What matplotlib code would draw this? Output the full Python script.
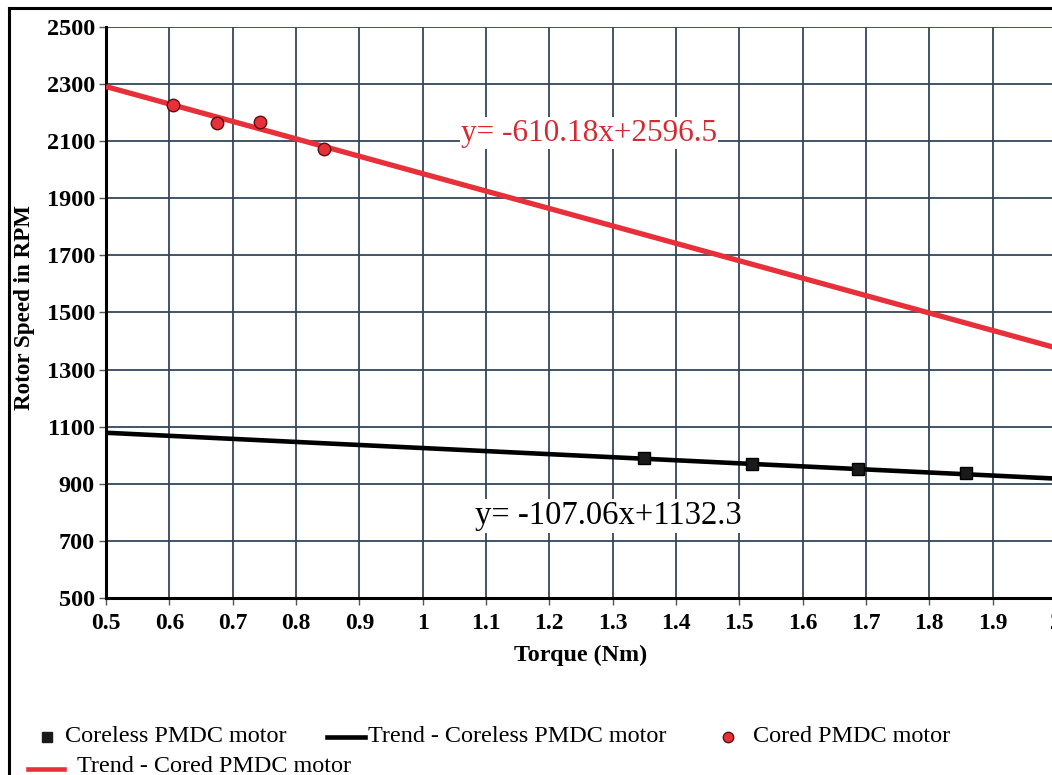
import matplotlib
matplotlib.use("Agg")
import matplotlib.pyplot as plt
import numpy as np
from matplotlib.lines import Line2D

plt.rcParams['font.family'] = ['Liberation Serif', 'DejaVu Serif']

# Data
cored_x = [0.606, 0.675, 0.743, 0.844]
cored_y = [2227, 2162, 2169, 2072]
coreless_x = [1.35, 1.52, 1.688, 1.858]
coreless_y = [990, 970, 951, 937]
cored_fit = (-610.18, 2596.5)
coreless_fit = (-107.06, 1132.3)
x_ticks = [0.5, 0.6, 0.7, 0.8, 0.9, 1, 1.1, 1.2, 1.3, 1.4, 1.5, 1.6, 1.7, 1.8, 1.9, 2]
y_ticks = [500, 700, 900, 1100, 1300, 1500, 1700, 1900, 2100, 2300, 2500]
legend_labels = ["Coreless PMDC motor", "Trend - Coreless PMDC motor",
                 "Cored PMDC motor", "Trend - Cored PMDC motor"]

W, H = 1052, 775
fig = plt.figure(figsize=(W/100, H/100), dpi=100)
fig.patch.set_facecolor('white')

left, right, top, bottom = 106, 1056, 27, 598
ax = fig.add_axes([left/W, 1-bottom/H, (right-left)/W, (bottom-top)/H])
ax.set_xlim(0.5, 2)
ax.set_ylim(500, 2500)
ax.set_xticks(x_ticks)
ax.set_xticklabels([str(t) for t in x_ticks])
ax.set_yticks(y_ticks)
grid_c = '#33475a'
ax.grid(True, color=grid_c, linewidth=1.3)
ax.set_axisbelow(True)
for s in ['top', 'right']:
    ax.spines[s].set_visible(False)
for s in ['left', 'bottom']:
    ax.spines[s].set_linewidth(2.2)
    ax.spines[s].set_color('black')
ax.tick_params(axis='y', direction='out', length=5, width=1, color='#555555', pad=3)
ax.tick_params(axis='x', direction='out', length=5, width=1, color='#555555', pad=6)
for lab in ax.get_yticklabels():
    lab.set_fontweight('bold')
    lab.set_fontsize(17.5)
for lab in ax.get_xticklabels():
    lab.set_fontweight('bold')
    lab.set_fontsize(17)

xs = np.array([0.5, 2.0])
ax.plot(xs, cored_fit[0]*xs + cored_fit[1], color='#e8303a', linewidth=3.8, zorder=3, solid_capstyle='butt')
ax.plot(xs, coreless_fit[0]*xs + coreless_fit[1], color='black', linewidth=3.3, zorder=3, solid_capstyle='butt')
ax.plot(cored_x, cored_y, 'o', color='#e8303a', markersize=9, markeredgecolor='#5a1010', markeredgewidth=1, zorder=4)
ax.plot(coreless_x, coreless_y, 's', color='#1a1a1a', markersize=8.5, markeredgecolor='black', zorder=4)

ax.text(0.5 + (589-left)/(right-left)*1.5, 2500 - (133-top)/(bottom-top)*2000,
        "y= -610.18x+2596.5", color='#d42a33', fontsize=22.5, ha='center', va='center',
        bbox=dict(facecolor='white', edgecolor='none', pad=1), zorder=5)
ax.text(0.5 + (608-left)/(right-left)*1.5, 2500 - (516-top)/(bottom-top)*2000,
        "y= -107.06x+1132.3", color='black', fontsize=23.5, ha='center', va='center',
        bbox=dict(facecolor='white', edgecolor='none', pad=1), zorder=5)

fig.text(581/W, 1-655/H, "Torque (Nm)", fontsize=17.3, fontweight='bold', ha='center', va='center')
fig.text(25/W, 1-307/H, "Rotor Speed in RPM", fontsize=16.6, fontweight='bold',
         rotation=90, ha='center', va='center')

# frame
fig.add_artist(Line2D([9/W, 9/W], [0, 1-8/H], color='black', linewidth=2.2, transform=fig.transFigure))
fig.add_artist(Line2D([9/W, 1], [1-8/H, 1-8/H], color='black', linewidth=2.2, transform=fig.transFigure))

# legend (manual)
def fx(px): return px/W
def fy(py): return 1-py/H
r1, r2 = 737, 767
fs = 17.4
fig.add_artist(Line2D([fx(47)], [fy(r1)], marker='s', color='#1a1a1a', markersize=6.5, linestyle='none', transform=fig.transFigure))
fig.text(fx(65), fy(r1), legend_labels[0], fontsize=fs, va='center', ha='left')
fig.add_artist(Line2D([fx(327), fx(365)], [fy(r1), fy(r1)], color='black', linewidth=3.3, transform=fig.transFigure))
fig.text(fx(368), fy(r1), legend_labels[1], fontsize=fs, va='center', ha='left')
fig.add_artist(Line2D([fx(728)], [fy(r1)], marker='o', color='#e8303a', markersize=7.5, markeredgecolor='#5a1010', markeredgewidth=1, linestyle='none', transform=fig.transFigure))
fig.text(fx(753), fy(r1), legend_labels[2], fontsize=fs, va='center', ha='left')
fig.add_artist(Line2D([fx(28), fx(64)], [fy(r2+2), fy(r2+2)], color='#e8303a', linewidth=3.3, transform=fig.transFigure))
fig.text(fx(77), fy(r2), legend_labels[3], fontsize=fs, va='center', ha='left')

fig.savefig("out.png", dpi=100)
